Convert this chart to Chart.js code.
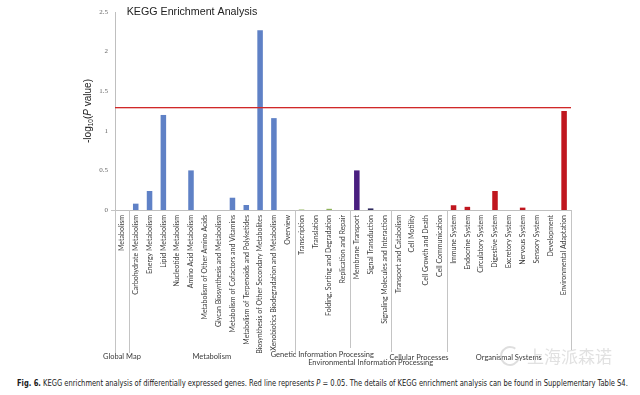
<!DOCTYPE html>
<html><head><meta charset="utf-8">
<script src="https://cdn.jsdelivr.net/npm/chart.js@4.4.1/dist/chart.umd.min.js"></script>
<style>
html,body{margin:0;padding:0;background:#fff}
body{width:640px;height:395px;overflow:hidden;position:relative}
#wrap{position:absolute;left:0;top:0;width:640px;height:375px}
#cap{position:absolute;left:17px;top:379px;white-space:nowrap;font-family:"Liberation Sans Narrow","DejaVu Sans Condensed","Liberation Sans",sans-serif;font-size:8px;color:#1a1a1a;transform-origin:0 0;-webkit-font-smoothing:antialiased}
#cap b{color:#1a1a1a}
</style></head><body>
<div id="wrap"><canvas id="c" width="640" height="375"></canvas></div>
<div id="cap"><b>Fig. 6.</b> KEGG enrichment analysis of differentially expressed genes. Red line represents <i>P</i> = 0.05. The details of KEGG enrichment analysis can be found in Supplementary Table S4.</div>
<script>
const categories = ["Metabolism","Carbohydrate Metabolism","Energy Metabolism","Lipid Metabolism","Nucleotide Metabolism","Amino Acid Metabolism","Metabolism of Other Amino Acids","Glycan Biosynthesis and Metabolism","Metabolism of Cofactors and Vitamins","Metabolism of Terpenoids and Polyketides","Biosynthesis of Other Secondary Metabolites","Xenobiotics Biodegradation and Metabolism","Overview","Transcription","Translation","Folding, Sorting and Degradation","Replication and Repair","Membrane Transport","Signal Transduction","Signaling Molecules and Interaction","Transport and Catabolism","Cell Motility","Cell Growth and Death","Cell Communication","Immune System","Endocrine System","Circulatory System","Digestive System","Excretory System","Nervous System","Sensory System","Development","Environmental Adaptation"];
const values = [0,0.08,0.24,1.20,0,0.50,0,0,0.155,0.063,2.27,1.16,0,0.006,0,0.015,0,0.50,0.02,0,0,0,0,0,0.06,0.04,0,0.24,0,0.03,0,0,1.25];
const groupNames = ["Global Map","Metabolism","Genetic Information Processing","Environmental Information Processing","Cellular Processes","Organismal Systems"];
const groupSizes = [1,12,4,3,4,9];
const groupColors = ["#5f81c6","#5f81c6","#8fb35a","#4a1f80","#e08a3c","#c0171f"];
const yTicks = [0,0.5,1,1.5,2,2.5];
const threshold = 1.301; // -log10(0.05)
const titleText = "KEGG Enrichment Analysis";

const barColors = [];
groupSizes.forEach((n,g)=>{ for(let i=0;i<n;i++) barColors.push(groupColors[g]); });
barColors[18] = "#2f2a5e";

const labelFont = "Lato, 'Open Sans', sans-serif";

const decor = {
  id:'decor',
  afterDatasetsDraw(chart){
    const {ctx, chartArea:ca, scales:{x,y}} = chart;
    ctx.save();
    // threshold line
    const ty = Math.round(y.getPixelForValue(threshold));
    ctx.fillStyle = "#d02828";
    ctx.fillRect(ca.left, ty, ca.right - ca.left, 1);
    ctx.fillStyle = "rgba(214,60,60,0.35)";
    ctx.fillRect(ca.left, ty+1, ca.right - ca.left, 1);
    // group dividers
    const step = x.getPixelForValue(1) - x.getPixelForValue(0);
    const bounds = [0]; let acc=0; groupSizes.forEach(n=>{acc+=n; bounds.push(acc);});
    const lens = [353,353,355,348,352,352,350];
    ctx.strokeStyle = "#c4c4c4"; ctx.lineWidth = 1;
    bounds.forEach((b,i)=>{
      const px = Math.round(x.getPixelForValue(0) - step/2 + b*step)+0.5;
      ctx.beginPath(); ctx.moveTo(px, ca.bottom); ctx.lineTo(px, lens[i]); ctx.stroke();
    });
    ctx.beginPath(); ctx.moveTo(ca.left-4, Math.round(ca.bottom)+0.5); ctx.lineTo(ca.left, Math.round(ca.bottom)+0.5); ctx.stroke();
    // group labels
    const gy = [357,357,355,363,358,358];
    ctx.fillStyle = "#3a3a3a"; ctx.font = "7.5px " + labelFont;
    ctx.textAlign = "center"; ctx.textBaseline = "middle";
    let start = 0;
    groupSizes.forEach((n,g)=>{
      const cx = (x.getPixelForValue(start) + x.getPixelForValue(start+n-1))/2;
      ctx.fillText(groupNames[g], cx, gy[g]);
      start += n;
    });
    // title
    ctx.fillStyle = "#222"; ctx.font = "10.7px 'Liberation Sans', Arial, sans-serif";
    ctx.textAlign = "center";
    ctx.fillText(titleText, 192, 12);
    // y axis title (rotated)
    ctx.translate(88, 111); ctx.rotate(-Math.PI/2);
    const F = "'Liberation Sans', sans-serif";
    const parts = [["-log","10px "+F,0],["10","6.5px "+F,3],["(","10px "+F,0],["P","italic 10px "+F,0],[" value)","10px "+F,0]];
    let tw = 0; parts.forEach(p=>{ctx.font=p[1]; tw += ctx.measureText(p[0]).width;});
    let cx = -tw/2; ctx.textAlign="left"; ctx.fillStyle="#222";
    parts.forEach(p=>{ctx.font=p[1]; ctx.fillText(p[0], cx, p[2]); cx += ctx.measureText(p[0]).width;});
    ctx.restore();
    // watermark
    ctx.save();
    ctx.fillStyle = "rgba(200,200,200,0.55)"; ctx.strokeStyle = "rgba(200,200,200,0.6)"; ctx.lineWidth = 2;
    ctx.beginPath(); ctx.arc(510, 356, 9, 0.3, Math.PI*1.7); ctx.stroke();
    ctx.font = "17px 'Noto Sans CJK SC', sans-serif"; ctx.textBaseline = "middle"; ctx.textAlign = "left";
    ctx.fillText("上海派森诺", 527, 357);
    ctx.restore();
  }
};

new Chart(document.getElementById('c'), {
  type:'bar',
  data:{ labels: categories, datasets:[{ data: values, backgroundColor: barColors, barPercentage:0.4, categoryPercentage:1 }]},
  options:{
    responsive:false, animation:false,
    layout:{ padding:{ top:12, right:69, left:0, bottom:0 } },
    plugins:{ legend:{display:false}, tooltip:{enabled:false}, title:{display:false} },
    scales:{
      x:{
        grid:{ display:false, drawTicks:false }, border:{ display:true, color:"#bfbfbf" },
        ticks:{ autoSkip:false, minRotation:90, maxRotation:90, padding:5, color:"#3a3a3a", font:{ size:7, family:labelFont } },
        afterFit(s){ s.height = 165; }
      },
      y:{
        min:0, max:2.5,
        grid:{ display:false, drawTicks:false }, border:{ display:true, color:"#bfbfbf" },
        afterBuildTicks(s){ s.ticks = yTicks.map(v=>({value:v})); },
        ticks:{ padding:7, color:"#666", font:{ size:7, family:"'Liberation Serif', serif" }, callback:v=>String(v) },
        afterFit(s){ s.width = 115; }
      }
    }
  },
  plugins:[decor]
});

const cap = document.getElementById('cap');
const w = cap.scrollWidth;
cap.style.transform = "scaleX(" + (611/w) + ")";
</script>
</body></html>
